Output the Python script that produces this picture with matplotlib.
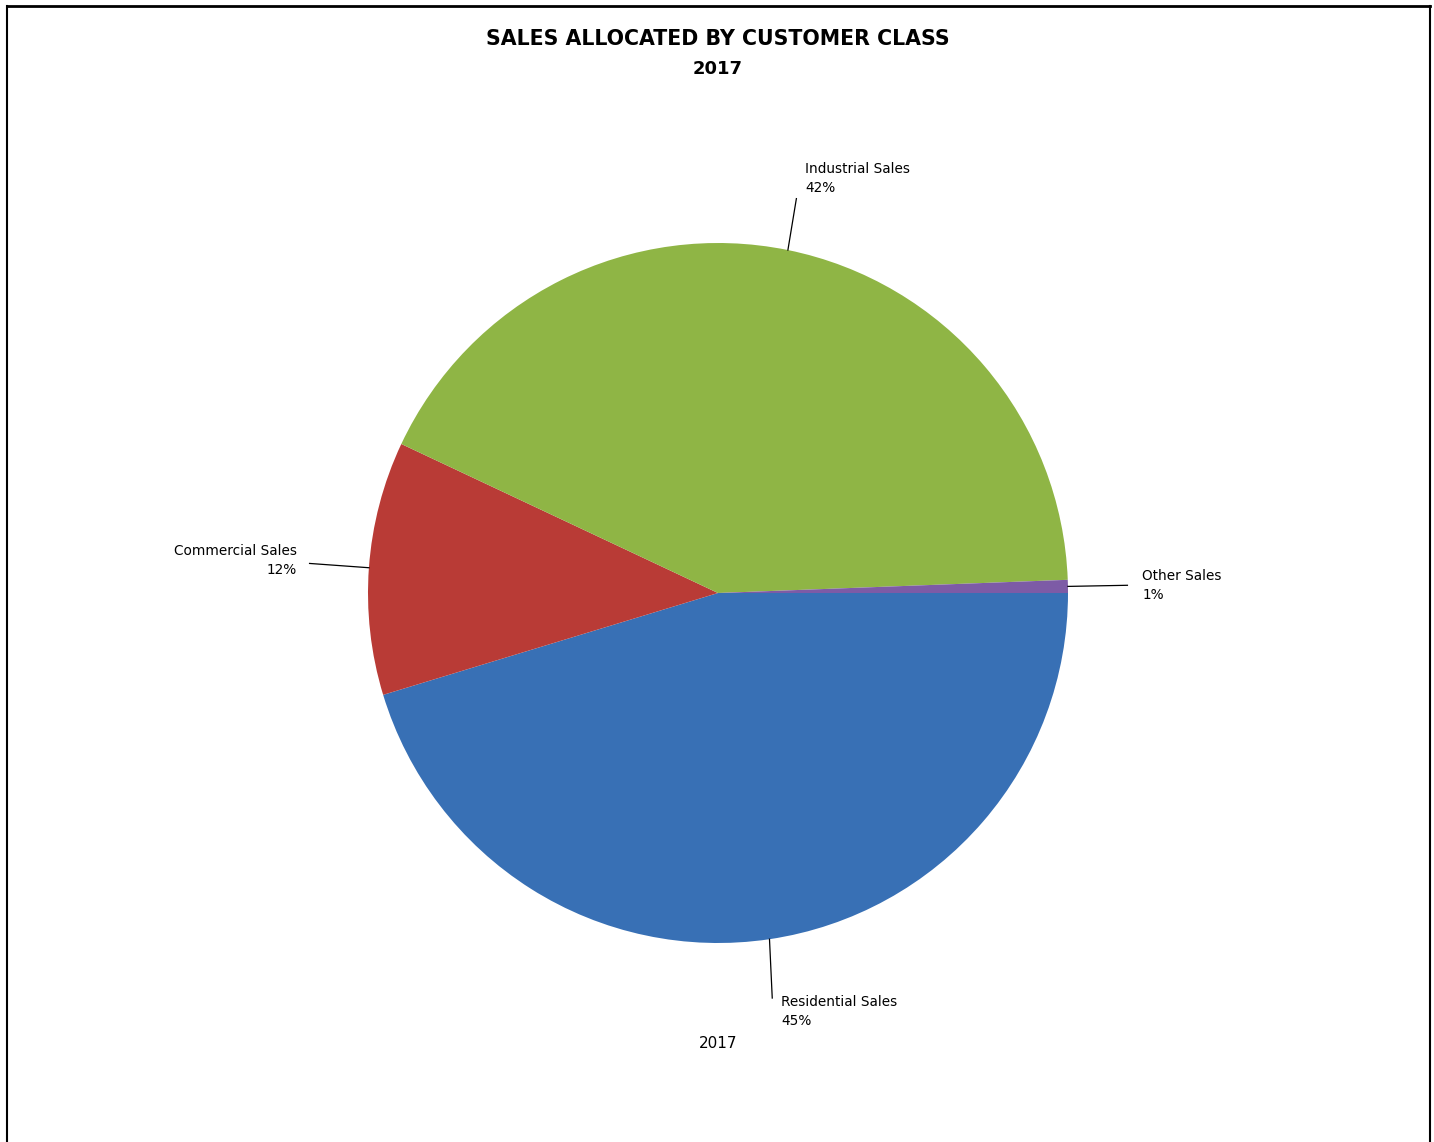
import numpy as np
import matplotlib
matplotlib.use("Agg")
import matplotlib.pyplot as plt
from matplotlib.lines import Line2D

categories = ["Residential Sales", "Commercial Sales", "Industrial Sales", "Other Sales"]
values = [45.3, 11.7, 42.4, 0.6]
pct_labels = ["45%", "12%", "42%", "1%"]
colors = ["#3870B5", "#B93B36", "#8FB545", "#7D5BA6"]

W, H = 1434, 1142
fig = plt.figure(figsize=(W / 100, H / 100), dpi=100)
ax = fig.add_axes([0, 0, 1, 1])
cx, cy, R = 718, H - 593, 350

wedges, _ = ax.pie(values, colors=colors, startangle=0, counterclock=False,
                   center=(cx, cy), radius=R, wedgeprops=dict(linewidth=0))
ax.set_xlim(0, W)
ax.set_ylim(0, H)
ax.set_aspect("equal")
ax.axis("off")

font = "DejaVu Sans"
# label placement: (line length factor, line end x shift, text dx, text dy, ha, va)
place = {
    "Residential Sales": (1.17, -6, 9, 3, "left", "top"),
    "Commercial Sales": (1.17, 0, -13, 3, "right", "center"),
    "Industrial Sales": (1.15, -2, 9, 4, "left", "bottom"),
    "Other Sales": (1.17, 0, 15, 0, "left", "center"),
}
for w, cat, pl in zip(wedges, categories, pct_labels):
    ang = np.deg2rad((w.theta1 + w.theta2) / 2)
    f, ex, dx, dy, ha, va = place[cat]
    x0, y0 = cx + R * np.cos(ang), cy + R * np.sin(ang)
    x1, y1 = cx + R * f * np.cos(ang) + ex, cy + R * f * np.sin(ang)
    ax.add_line(Line2D([x0, x1], [y0, y1], color="black", lw=0.9))
    ax.text(x1 + dx, y1 + dy, f"{cat}\n{pl}", ha=ha, va=va, fontsize=9.8,
            family=font, linespacing=1.42, multialignment="left" if ha != "right" else "right")

fig.text(718 / W, 1 - 39 / H, "SALES ALLOCATED BY CUSTOMER CLASS", ha="center", va="center",
         fontsize=14.8, fontweight="bold", family=font)
fig.text(718 / W, 1 - 69 / H, "2017", ha="center", va="center",
         fontsize=13, fontweight="bold", family=font)
fig.text(718 / W, 1 - 1043 / H, "2017", ha="center", va="center",
         fontsize=11, family=font)

# outer frame (top, left, right)
fig.add_artist(Line2D([7 / W, 1430 / W], [1 - 6 / H, 1 - 6 / H], transform=fig.transFigure, color="black", lw=2))
fig.add_artist(Line2D([7 / W, 7 / W], [0, 1 - 6 / H], transform=fig.transFigure, color="black", lw=1.5))
fig.add_artist(Line2D([1430 / W, 1430 / W], [0, 1 - 6 / H], transform=fig.transFigure, color="black", lw=1.5))

fig.savefig("out.png", dpi=100, facecolor="white")
